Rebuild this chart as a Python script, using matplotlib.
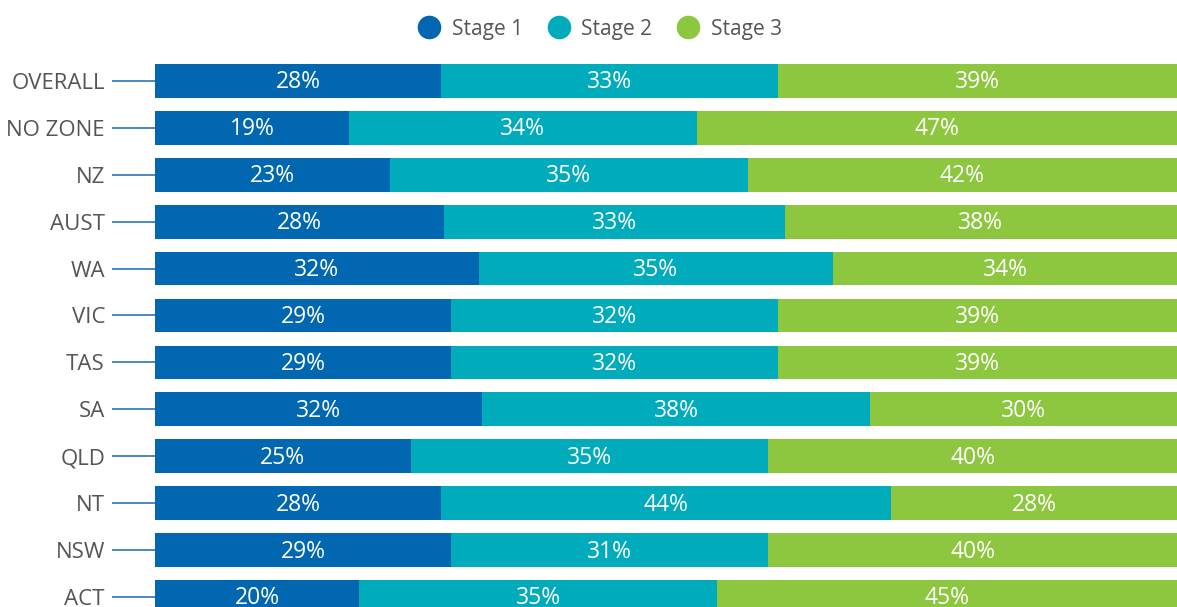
import numpy as np
import matplotlib.pyplot as plt
from matplotlib.lines import Line2D

regions = ['OVERALL', 'NO ZONE', 'NZ', 'AUST', 'WA', 'VIC', 'TAS', 'SA', 'QLD', 'NT', 'NSW', 'ACT']
stage1 = [28, 19, 23, 28, 32, 29, 29, 32, 25, 28, 29, 20]
stage2 = [33, 34, 35, 33, 35, 32, 32, 38, 35, 44, 31, 35]
stage3 = [39, 47, 42, 38, 34, 39, 39, 30, 40, 28, 40, 45]
series = ['Stage 1', 'Stage 2', 'Stage 3']
colors = ['#0067b0', '#00abbc', '#8dc63f']

fig = plt.figure(figsize=(11.77, 6.07), dpi=100)
ax = fig.add_axes([155 / 1177, 0, 1 - 155 / 1177, 1])

data = np.array([stage1, stage2, stage3], dtype=float)
totals = data.sum(axis=0)
y = np.arange(len(regions))
left = np.zeros(len(regions))
for vals, col in zip(data, colors):
    w = vals / totals * 100  # rows drawn full width like the original
    ax.barh(y, w, left=left, height=0.72, color=col, edgecolor='none')
    for yi, l, wi, v in zip(y, left, w, vals):
        ax.text(l + wi / 2, yi + 0.03, f'{int(v)}%', ha='center', va='center', color='white',
                fontsize=16.5, family='Open Sans')
    left = left + w

ax.set_xlim(0, 100)
ax.set_ylim(11 + 10 / 47, -81 / 47)
ax.set_yticks(y)
ax.set_yticklabels(regions, fontsize=16, color='#555555', family='Open Sans')
ax.tick_params(axis='y', length=31, width=1.3, color='#3a7fc0', pad=5)
ax.tick_params(axis='x', bottom=False, labelbottom=False)
for s in ax.spines.values():
    s.set_visible(False)

handles = [Line2D([], [], marker='o', linestyle='none', markersize=17,
                  markerfacecolor=c, markeredgecolor='none') for c in colors]
fig.legend(handles, series, loc='center', bbox_to_anchor=(595 / 1177, 1 - 29 / 607),
           ncol=3, frameon=False, handletextpad=0.1, columnspacing=0.7,
           labelcolor='#555555', prop={'family': 'Open Sans', 'size': 15})

fig.savefig('out.png', dpi=100)
